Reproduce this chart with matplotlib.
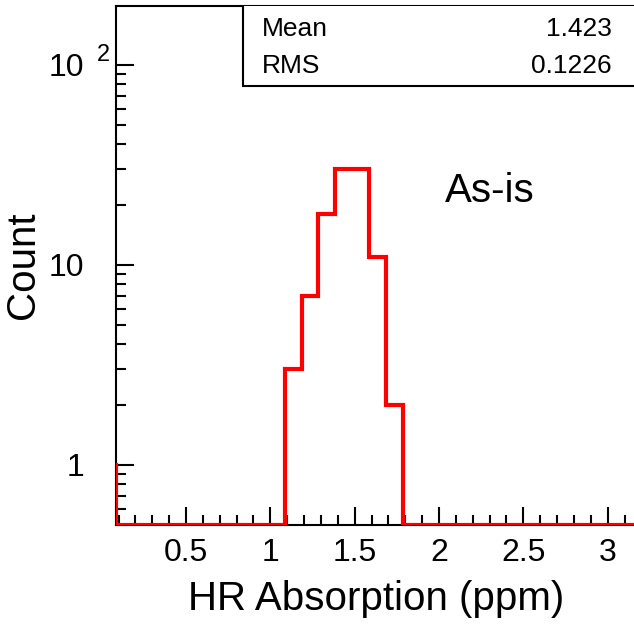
import numpy as np
import matplotlib.pyplot as plt
from matplotlib.ticker import MultipleLocator, LogLocator, NullFormatter, FixedLocator
from matplotlib.patches import Rectangle

plt.rcParams['font.family'] = ['Liberation Sans', 'DejaVu Sans']

# histogram data (bin width 0.1, first bin is the one left of the axis range)
bin_edges = np.round(np.arange(-0.015, 3.2, 0.1), 3)
counts = [1, 0, 0, 0, 0, 0, 0, 0, 0, 0, 0,
          3, 7, 18, 30, 30, 11, 2,
          0, 0, 0, 0, 0, 0, 0, 0, 0, 0, 0, 0, 0, 0]
stat_names = ['Mean', 'RMS']
stat_values = ['1.423', '0.1226']
x_range = (0.085, 3.156)
y_range = (0.5, 197)

fig = plt.figure(figsize=(6.34, 6.27), dpi=100)
ax = fig.add_axes([116 / 634, 1 - 525 / 627, 518 / 634, 519 / 627])

ax.set_yscale('log')
ax.set_xlim(*x_range)
ax.set_ylim(*y_range)

# zero bins are drawn on the bottom edge like in ROOT
shown = np.maximum(np.array(counts, dtype=float), y_range[0])
ax.stairs(shown, bin_edges, color='red', lw=3, baseline=None, zorder=5)

# axes styling
for s in ['left', 'bottom', 'top']:
    ax.spines[s].set_linewidth(1.5)
ax.spines['right'].set_visible(False)

ax.xaxis.set_minor_locator(MultipleLocator(0.1))
ax.set_xticks([0.5, 1, 1.5, 2, 2.5, 3])
ax.set_xticklabels(['0.5', '1', '1.5', '2', '2.5', '3'])
ax.yaxis.set_major_locator(FixedLocator([1, 10, 100]))
ax.yaxis.set_minor_locator(LogLocator(base=10, subs=np.arange(2, 10)))
ax.yaxis.set_minor_formatter(NullFormatter())
ax.set_yticklabels(['1', '10', '10'])

ax.tick_params(axis='both', which='both', direction='in', top=False, right=False,
               width=1.5, labelsize=23)
ax.tick_params(axis='both', which='major', length=13)
ax.tick_params(axis='both', which='minor', length=7)
ax.tick_params(axis='x', which='major', pad=9.5)
ax.tick_params(axis='y', which='major', pad=23)

# exponent of the 10^2 label
fig.text(97 / 634, 1 - 55 / 627, '2', fontsize=17, ha='left', va='center')

# axis titles
fig.text(23 / 634, 1 - 265 / 627, 'Count', fontsize=29, rotation=90,
         ha='center', va='center')
fig.text(376 / 634, 1 - 610 / 627, 'HR Absorption (ppm)', fontsize=29,
         ha='center', va='baseline')

# stats box
ax.add_patch(Rectangle((127 / 518, (525 - 86) / 519), 0.8, 0.2,
                       transform=ax.transAxes, facecolor='white',
                       edgecolor='black', lw=1.5, clip_on=True, zorder=6))
for i, (name, val) in enumerate(zip(stat_names, stat_values)):
    y = (525 - 29 - i * 37) / 519
    ax.text((262 - 116) / 518, y, name, transform=ax.transAxes, fontsize=19,
            ha='left', va='center', zorder=7)
    ax.text((612 - 116) / 518, y, val, transform=ax.transAxes, fontsize=19,
            ha='right', va='center', zorder=7)

ax.text(0.635, 0.6435, 'As-is', transform=ax.transAxes, fontsize=29,
        ha='left', va='center')

fig.savefig('out.png', dpi=100)
